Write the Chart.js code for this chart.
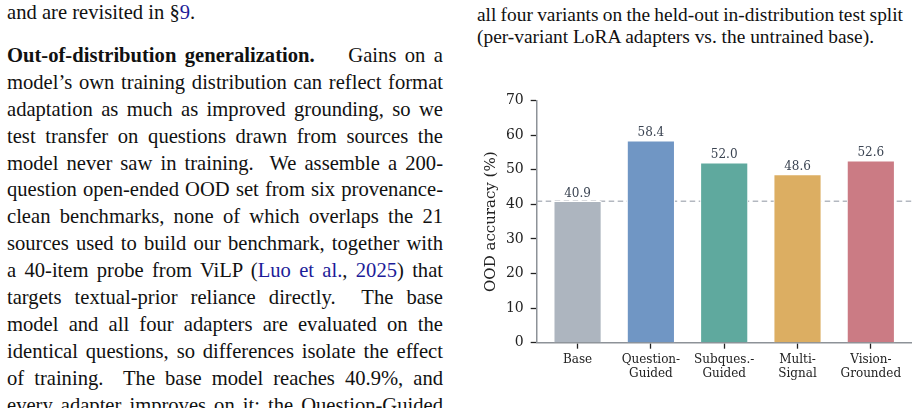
<!DOCTYPE html>
<html>
<head>
<meta charset="utf-8">
<script src="https://cdn.jsdelivr.net/npm/chart.js@4.4.1/dist/chart.umd.min.js"></script>
<style>
  html, body { margin: 0; padding: 0; background: #fff; }
  body {
    width: 921px; height: 408px; position: relative; overflow: hidden;
    font-family: "Liberation Serif", "Times New Roman", serif; color: #111;
  }
  .col { position: absolute; }
  .left { left: 7px; top: -1px; width: 436px; font-size: 20.6px; line-height: 26.9px; }
  .cap { left: 477px; top: 4px; width: 426px; font-size: 19.4px; line-height: 22px; }
  .j { text-align: justify; text-align-last: justify; word-spacing: -2px; }
  .gap { margin-top: 16px; }
  .cite { color: #1c1c99; }
  #chartBox { position: absolute; left: 460px; top: 80px; width: 461px; height: 328px; }
</style>
</head>
<body>

<div class="col left">
  <div>and are revisited in §<span class="cite">9</span>.</div>
  <div class="j gap"><b>Out-of-distribution generalization.</b>&nbsp;&nbsp;&nbsp; Gains on a</div>
  <div class="j">model’s own training distribution can reflect format</div>
  <div class="j">adaptation as much as improved grounding, so we</div>
  <div class="j">test transfer on questions drawn from sources the</div>
  <div class="j">model never saw in training.&nbsp; We assemble a 200-</div>
  <div class="j">question open-ended OOD set from six provenance-</div>
  <div class="j">clean benchmarks, none of which overlaps the 21</div>
  <div class="j">sources used to build our benchmark, together with</div>
  <div class="j">a 40-item probe from ViLP (<span class="cite">Luo et al.</span>, <span class="cite">2025</span>) that</div>
  <div class="j">targets textual-prior reliance directly.&nbsp; The base</div>
  <div class="j">model and all four adapters are evaluated on the</div>
  <div class="j">identical questions, so differences isolate the effect</div>
  <div class="j">of training.&nbsp; The base model reaches 40.9%, and</div>
  <div class="j">every adapter improves on it; the Question-Guided</div>
</div>

<div class="col cap">
  <div class="j">all four variants on the held-out in-distribution test split</div>
  <div>(per-variant LoRA adapters vs. the untrained base).</div>
</div>

<div id="chartBox"><canvas id="oodChart" width="461" height="328"></canvas></div>

<script>
// ---------- 数据 ----------
const categories = [['Base'], ['Question-', 'Guided'], ['Subques.-', 'Guided'], ['Multi-', 'Signal'], ['Vision-', 'Grounded']];
const accuracy   = [40.9, 58.4, 52.0, 48.6, 52.6];   // OOD accuracy (%)
const yTicks     = [0, 10, 20, 30, 40, 50, 60, 70];

// 柱子颜色（按类别）
const barColors = ['#adb5bf', '#7096c4', '#5fa99e', '#dcae62', '#cb7b84'];

const SERIF = '"DejaVu Serif"';

// 基线虚线：Base 的准确率，画在柱子后面
const baselinePlugin = {
  id: 'baseline',
  beforeDatasetsDraw(chart) {
    const { ctx, chartArea, scales } = chart;
    const y = scales.y.getPixelForValue(accuracy[0]);
    ctx.save();
    ctx.strokeStyle = '#b3b8c0';
    ctx.lineWidth = 1.4;
    ctx.setLineDash([5.5, 3.5]);
    ctx.beginPath();
    ctx.moveTo(chartArea.left, y);
    ctx.lineTo(chartArea.right, y);
    ctx.stroke();
    ctx.restore();
  }
};

// 柱顶数值标签
const valueLabelPlugin = {
  id: 'valueLabels',
  afterDatasetsDraw(chart) {
    const { ctx } = chart;
    const meta = chart.getDatasetMeta(0);
    ctx.save();
    ctx.font = '12px ' + SERIF;
    ctx.fillStyle = '#3b4452';
    ctx.textAlign = 'center';
    ctx.textBaseline = 'alphabetic';
    meta.data.forEach(function (bar, i) {
      ctx.fillText(accuracy[i].toFixed(1), bar.x, bar.y - 4.5);
    });
    ctx.restore();
  }
};

const ctx = document.getElementById('oodChart').getContext('2d');
new Chart(ctx, {
  type: 'bar',
  data: {
    datasets: [{
      data: accuracy.map(function (v, i) { return { x: i, y: v }; }),
      backgroundColor: barColors,
      borderColor: '#ffffff',
      borderWidth: 1,
      barThickness: 47.5,
    }],
  },
  options: {
    responsive: false,
    animation: false,
    layout: { padding: { left: 0, right: 9.3, top: 20.7, bottom: 0 } },
    plugins: {
      legend: { display: false },
      tooltip: { enabled: false },
    },
    scales: {
      x: {
        type: 'linear',
        offset: false,
        min: -0.5575,
        max: 4.5575,
        afterBuildTicks: function (scale) {
          scale.ticks = categories.map(function (c, i) { return { value: i }; });
        },
        afterFit: function (scale) { scale.height = 65.3; },
        ticks: {
          callback: function (v) { return categories[v]; },
          font: { family: SERIF, size: 12, lineHeight: 1.1 },
          color: '#222',
          padding: 5,
          maxRotation: 0,
          autoSkip: false,
        },
        grid: { offset: false, drawOnChartArea: false, drawTicks: true, tickLength: 6, tickColor: '#222', tickWidth: 1.3 },
        border: { color: '#8d9298', width: 1.5 },
      },
      y: {
        min: 0,
        max: 70,
        afterBuildTicks: function (scale) {
          scale.ticks = yTicks.map(function (v) { return { value: v }; });
        },
        afterFit: function (scale) { scale.width = 76.7; },
        ticks: {
          font: { family: SERIF, size: 14 },
          color: '#222',
          padding: 7,
        },
        grid: { drawOnChartArea: false, drawTicks: true, tickLength: 6, tickColor: '#222', tickWidth: 1.3 },
        border: { color: '#8d9298', width: 1.5 },
        title: {
          display: true,
          text: 'OOD accuracy (%)',
          font: { family: SERIF, size: 15 },
          color: '#222',
          padding: { top: 21.7, bottom: 0 },
        },
      },
    },
  },
  plugins: [baselinePlugin, valueLabelPlugin],
});
</script>
</body>
</html>
